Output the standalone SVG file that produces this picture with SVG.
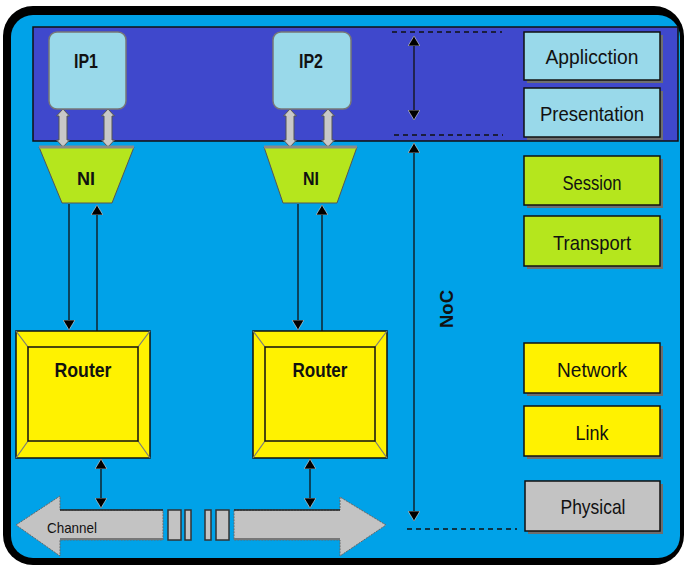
<svg xmlns="http://www.w3.org/2000/svg" width="684" height="565" viewBox="0 0 684 565">
  <defs>
    <style>
      .lbl { font-family: "Liberation Sans", Arial, sans-serif; fill: #111; }
      .bold { font-weight: bold; }
      .layer { stroke: #111; stroke-width: 1.5; }
      .shadow { fill: #6e6e6e; }
      .conn { stroke: #111; stroke-width: 1.3; fill: none; }
      .dash { stroke: #111; stroke-width: 1.5; stroke-dasharray: 5 4; fill: none; }
      .bevel { stroke: #7a7a7a; stroke-width: 1.2; }
    </style>
    <marker id="tip" viewBox="0 0 10 12" refX="10" refY="6" markerWidth="10" markerHeight="12" markerUnits="userSpaceOnUse" orient="auto-start-reverse">
      <path d="M0,0 L10,6 L0,12 Z" fill="#000" stroke="#ddd" stroke-width="0.6"/>
    </marker>
    <!-- gray block double arrow, 38 long, centred on x=0 -->
    <path id="dblk" d="M0,0 L6.5,7 L4,7 L4,31 L6.5,31 L0,38 L-6.5,31 L-4,31 L-4,7 L-6.5,7 Z" fill="#c8c8c8" stroke="#555" stroke-width="1"/>
  </defs>

  <!-- frame -->
  <rect x="3" y="6" width="681" height="559" rx="30" fill="#000"/>
  <rect x="11" y="15" width="669" height="543" rx="22" fill="#00a2e8"/>

  <!-- application band -->
  <rect x="33" y="27" width="645" height="114" fill="#3f48cc" stroke="#111" stroke-width="1.5"/>

  <!-- connectors -->
  <g id="connectors">
    <use href="#dblk" x="63" y="109"/>
    <use href="#dblk" x="108" y="109"/>
    <use href="#dblk" x="290" y="109"/>
    <use href="#dblk" x="328" y="109"/>

    <line class="conn" x1="69" y1="204" x2="69" y2="330" marker-end="url(#tip)"/>
    <line class="conn" x1="97" y1="331" x2="97" y2="205" marker-end="url(#tip)"/>
    <line class="conn" x1="298" y1="204" x2="298" y2="330" marker-end="url(#tip)"/>
    <line class="conn" x1="322" y1="331" x2="322" y2="205" marker-end="url(#tip)"/>

    <line class="conn" x1="101" y1="459" x2="101" y2="508" marker-start="url(#tip)" marker-end="url(#tip)"/>
    <line class="conn" x1="310" y1="459" x2="310" y2="508" marker-start="url(#tip)" marker-end="url(#tip)"/>
  </g>

  <!-- IP blocks -->
  <g id="ip1">
    <rect x="49" y="32" width="77" height="77" rx="8" fill="#99d9ea" stroke="#777" stroke-width="1.5"/>
    <text class="lbl bold" x="86" y="68" font-size="20" text-anchor="middle" textLength="24" lengthAdjust="spacingAndGlyphs">IP1</text>
  </g>
  <g id="ip2">
    <rect x="273" y="32" width="78" height="77" rx="8" fill="#99d9ea" stroke="#777" stroke-width="1.5"/>
    <text class="lbl bold" x="311" y="68" font-size="20" text-anchor="middle" textLength="24" lengthAdjust="spacingAndGlyphs">IP2</text>
  </g>

  <!-- network interfaces -->
  <g id="ni1">
    <polygon points="39,147 134,147 112,203 62,203" fill="#b5e61d" stroke="#555" stroke-width="1"/>
    <line x1="39" y1="147" x2="134" y2="147" stroke="#8a8a8a" stroke-width="3"/>
    <text class="lbl bold" x="86" y="185" font-size="18" text-anchor="middle" textLength="18" lengthAdjust="spacingAndGlyphs">NI</text>
  </g>
  <g id="ni2">
    <polygon points="264,147 357,147 337,203 283,203" fill="#b5e61d" stroke="#555" stroke-width="1"/>
    <line x1="264" y1="147" x2="357" y2="147" stroke="#8a8a8a" stroke-width="3"/>
    <text class="lbl bold" x="311" y="185" font-size="18" text-anchor="middle" textLength="16" lengthAdjust="spacingAndGlyphs">NI</text>
  </g>

  <!-- routers -->
  <g id="router1">
    <rect x="16" y="331" width="134" height="127" fill="#fff200" stroke="#111" stroke-width="1.5"/>
    <line class="bevel" x1="16" y1="331" x2="28" y2="347"/>
    <line class="bevel" x1="150" y1="331" x2="138" y2="347"/>
    <line class="bevel" x1="16" y1="458" x2="28" y2="441"/>
    <line class="bevel" x1="150" y1="458" x2="138" y2="441"/>
    <rect x="28" y="347" width="110" height="94" fill="#fff200" stroke="#111" stroke-width="1.5"/>
    <text class="lbl bold" x="83" y="377" font-size="20" text-anchor="middle" textLength="57" lengthAdjust="spacingAndGlyphs">Router</text>
  </g>
  <g id="router2">
    <rect x="253" y="331" width="134" height="127" fill="#fff200" stroke="#111" stroke-width="1.5"/>
    <line class="bevel" x1="253" y1="331" x2="265" y2="347"/>
    <line class="bevel" x1="387" y1="331" x2="375" y2="347"/>
    <line class="bevel" x1="253" y1="458" x2="265" y2="441"/>
    <line class="bevel" x1="387" y1="458" x2="375" y2="441"/>
    <rect x="265" y="347" width="110" height="94" fill="#fff200" stroke="#111" stroke-width="1.5"/>
    <text class="lbl bold" x="320" y="377" font-size="20" text-anchor="middle" textLength="55" lengthAdjust="spacingAndGlyphs">Router</text>
  </g>

  <!-- channel -->
  <g id="channel">
    <polygon points="16,525 60,496 60,510 163,510 163,540 60,540 60,556" fill="#c3c3c3" stroke="#666" stroke-width="1" stroke-dasharray="2 1"/>
    <line x1="60" y1="510" x2="163" y2="510" stroke="#222" stroke-width="1.5"/>
    <line x1="60" y1="539" x2="163" y2="539" stroke="#777" stroke-width="2"/>
    <rect x="168" y="510" width="13" height="30" fill="#c3c3c3" stroke="#333" stroke-width="1.5"/>
    <rect x="185" y="510" width="6" height="30" fill="#c3c3c3" stroke="#333" stroke-width="1.5"/>
    <rect x="205" y="510" width="6" height="30" fill="#c3c3c3" stroke="#333" stroke-width="1.5"/>
    <rect x="216" y="510" width="13" height="30" fill="#c3c3c3" stroke="#333" stroke-width="1.5"/>
    <polygon points="234,510 340,510 340,497 386,525 340,556 340,540 234,540" fill="#c3c3c3" stroke="#666" stroke-width="1" stroke-dasharray="2 1"/>
    <line x1="234" y1="510" x2="340" y2="510" stroke="#222" stroke-width="1.5"/>
    <line x1="234" y1="539" x2="340" y2="539" stroke="#777" stroke-width="2"/>
    <text class="lbl" x="47" y="533" font-size="15" textLength="50" lengthAdjust="spacingAndGlyphs">Channel</text>
  </g>

  <!-- extent markers -->
  <g id="extents">
    <line class="dash" x1="392" y1="32" x2="502" y2="32"/>
    <line class="dash" x1="394" y1="135" x2="503" y2="135"/>
    <line class="dash" x1="407" y1="529" x2="517" y2="529"/>
    <line class="conn" x1="414" y1="36" x2="414" y2="120" marker-start="url(#tip)" marker-end="url(#tip)"/>
    <line class="conn" x1="414" y1="143" x2="414" y2="521" marker-start="url(#tip)" marker-end="url(#tip)"/>
    <text class="lbl bold" transform="translate(453,309) rotate(-90)" font-size="18" text-anchor="middle" textLength="38" lengthAdjust="spacingAndGlyphs">NoC</text>
  </g>

  <!-- protocol layers -->
  <g id="application">
    <rect class="shadow" x="527" y="35" width="136" height="48"/>
    <rect class="layer" x="524" y="32" width="136" height="48" fill="#99d9ea"/>
    <text class="lbl" x="592" y="64" font-size="21" text-anchor="middle" textLength="93" lengthAdjust="spacingAndGlyphs">Applicction</text>
  </g>
  <g id="presentation">
    <rect class="shadow" x="527" y="91" width="136" height="49"/>
    <rect class="layer" x="524" y="88" width="136" height="49" fill="#99d9ea"/>
    <text class="lbl" x="592" y="121" font-size="21" text-anchor="middle" textLength="104" lengthAdjust="spacingAndGlyphs">Presentation</text>
  </g>
  <g id="session">
    <rect class="shadow" x="527" y="159" width="136" height="49"/>
    <rect class="layer" x="524" y="156" width="136" height="49" fill="#b5e61d"/>
    <text class="lbl" x="592" y="190" font-size="21" text-anchor="middle" textLength="59" lengthAdjust="spacingAndGlyphs">Session</text>
  </g>
  <g id="transport">
    <rect class="shadow" x="527" y="219" width="136" height="50"/>
    <rect class="layer" x="524" y="216" width="136" height="50" fill="#b5e61d"/>
    <text class="lbl" x="592" y="250" font-size="21" text-anchor="middle" textLength="78" lengthAdjust="spacingAndGlyphs">Transport</text>
  </g>
  <g id="network">
    <rect class="shadow" x="527" y="346" width="136" height="50"/>
    <rect class="layer" x="524" y="343" width="136" height="50" fill="#fff200"/>
    <text class="lbl" x="592" y="377" font-size="21" text-anchor="middle" textLength="70" lengthAdjust="spacingAndGlyphs">Network</text>
  </g>
  <g id="link">
    <rect class="shadow" x="527" y="409" width="136" height="50"/>
    <rect class="layer" x="524" y="406" width="136" height="50" fill="#fff200"/>
    <text class="lbl" x="592" y="440" font-size="21" text-anchor="middle" textLength="33" lengthAdjust="spacingAndGlyphs">Link</text>
  </g>
  <g id="physical">
    <rect class="shadow" x="528" y="484" width="135" height="50"/>
    <rect class="layer" x="525" y="481" width="135" height="50" fill="#c3c3c3"/>
    <text class="lbl" x="593" y="514" font-size="21" text-anchor="middle" textLength="65" lengthAdjust="spacingAndGlyphs">Physical</text>
  </g>
</svg>
